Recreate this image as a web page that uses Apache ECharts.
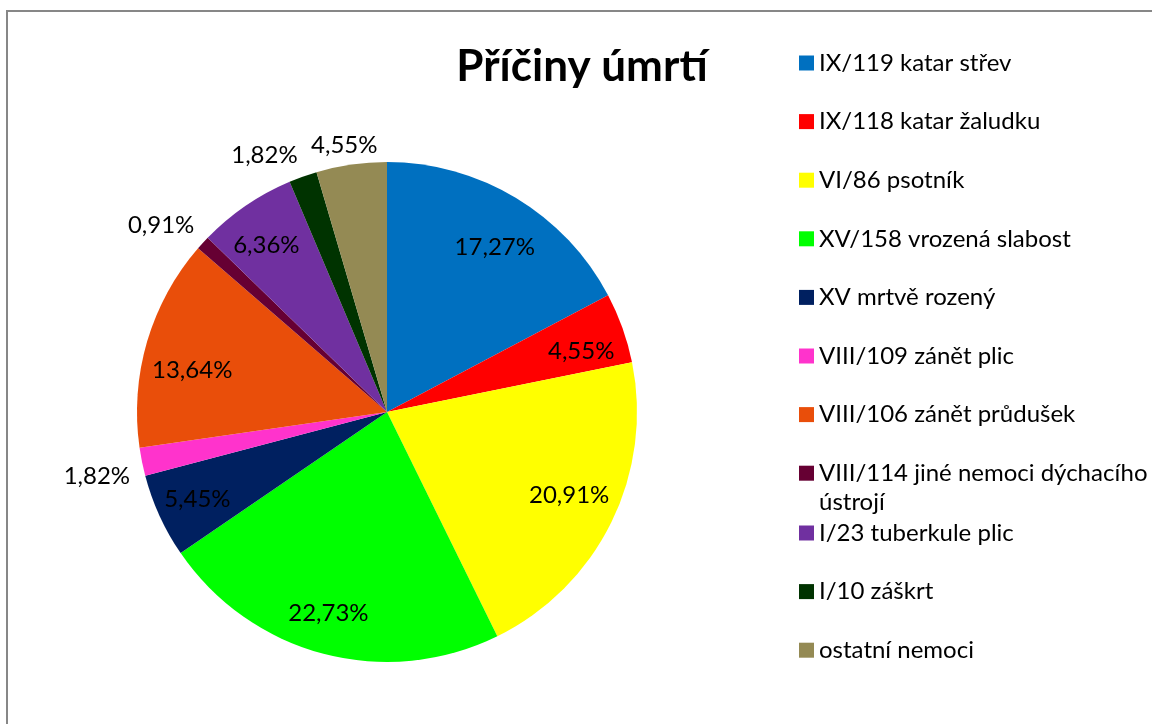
<!DOCTYPE html>
<html>
<head>
<meta charset="utf-8">
<title>Příčiny úmrtí</title>
<script src="https://cdn.jsdelivr.net/npm/echarts@6/dist/echarts.min.js"></script>
<style>
html,body{margin:0;padding:0;background:#fff;}
#chart{width:1152px;height:724px;}
</style>
</head>
<body>
<div id="chart"></div>
<script>
// categories + shares (in %)
const causes=[
    "IX/119 katar střev",
    "IX/118 katar žaludku",
    "VI/86 psotník",
    "XV/158 vrozená slabost",
    "XV mrtvě rozený",
    "VIII/109 zánět plic",
    "VIII/106 zánět průdušek",
    "VIII/114 jiné nemoci dýchacího ústrojí",
    "I/23 tuberkule plic",
    "I/10 záškrt",
    "ostatní nemoci"
];
const shares=[17.27,4.55,20.91,22.73,5.45,1.82,13.64,0.91,6.36,1.82,4.55];

const colors=[
    "#0070C0","#FF0000","#FFFF00","#00FF00","#002060","#FF33CC",
    "#E94E0A","#660033","#7030A0","#003300","#948A54"
];

// slices whose label sits inside vs. just outside (Excel "best fit")
const insideLabels=[0,1,2,3,4,6,8];
const outsideLabels=[5,7,9,10];

// small per-label nudges so the labels land where Excel put them
const labelNudge={
    0:[3,9],1:[3,8],2:[0,-6],3:[-7,5],4:[-5,3],6:[0,15],8:[-6,1],
    5:[-3,6],7:[-10,11],9:[-24,19],10:[-1,23]
};

const CENTER=[387,412];
const R=250;
const FONT="Lato";

const pct=v=>v.toFixed(2).replace(".",",")+"%";

const sliceData=causes.map((c,i)=>({name:c,value:shares[i]}));

// transparent ring used only to carry labels at a chosen radius
function labelRing(r0,r1,keep){
    return {
        type:"pie",
        silent:true,
        center:CENTER,
        radius:[r0,r1],
        itemStyle:{color:"rgba(0,0,0,0)"},
        labelLine:{show:false},
        labelLayout:p=>{
            const n=labelNudge[p.dataIndex]||[0,0];
            return {dx:n[0],dy:n[1],hideOverlap:false};
        },
        emphasis:{disabled:true},
        tooltip:{show:false},
        label:{
            position:"inside",
            fontFamily:FONT,
            fontSize:24,
            color:"#000",
            formatter:p=>pct(p.value)
        },
        data:sliceData.map((d,i)=>({
            name:d.name,
            value:d.value,
            label:{show:keep.includes(i)}
        }))
    };
}

const legendBase={
    orient:"vertical",
    left:799,
    itemWidth:15,
    itemHeight:15,
    itemGap:34.6,
    padding:0,
    icon:"rect",
    textStyle:{fontFamily:FONT,fontSize:24,color:"#000"}
};

const wrapped="{a|VIII/114 jiné nemoci dýchacího}\n{a|ústrojí}";

const chart=echarts.init(document.getElementById("chart"));

chart.setOption({
    animation:false,
    color:colors,
    title:{
        text:"Příčiny úmrtí",
        left:577,
        top:62,
        textAlign:"center",
        textVerticalAlign:"middle",
        textStyle:{fontFamily:FONT,fontWeight:"bold",fontSize:44,color:"#000"}
    },
    tooltip:{trigger:"item",formatter:p=>p.name+"<br>"+pct(p.value)},
    graphic:[{
        type:"rect",
        shape:{x:7,y:11,width:1400,height:1000},
        style:{fill:null,stroke:"#878787",lineWidth:2},
        silent:true
    }],
    legend:[
        Object.assign({},legendBase,{
            top:51,
            data:causes.slice(0,7).concat([{
                name:causes[7],
                textStyle:{
                    padding:[29,0,0,0],
                    rich:{a:{fontFamily:FONT,fontSize:24,lineHeight:29,color:"#000"}}
                }
            }]),
            formatter:n=>n===causes[7]?wrapped:n
        }),
        Object.assign({},legendBase,{
            top:521,
            data:causes.slice(8)
        })
    ],
    series:[
        {
            type:"pie",
            name:"Příčiny úmrtí",
            center:CENTER,
            radius:[0,R],
            startAngle:90,
            label:{show:false},
            labelLine:{show:false},
            data:sliceData
        },
        labelRing(150,250,insideLabels),
        labelRing(250,330,outsideLabels)
    ]
});

window.addEventListener("resize",()=>chart.resize());
</script>
</body>
</html>
